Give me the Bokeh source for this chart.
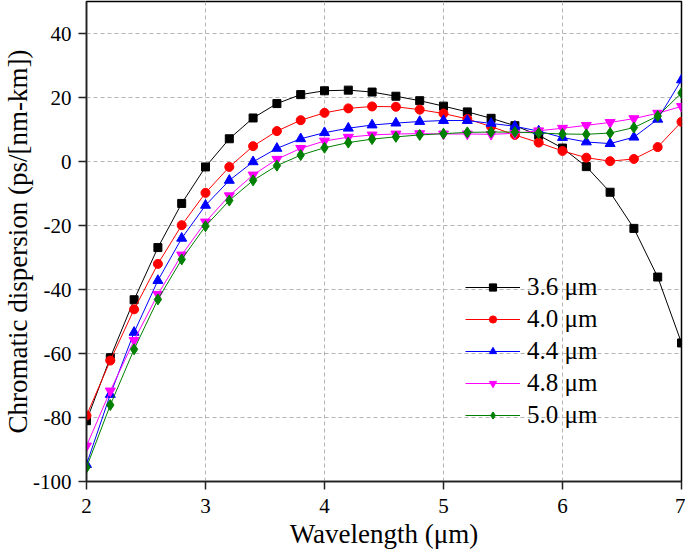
from bokeh.plotting import figure
from bokeh.models import Range1d, FixedTicker, Legend, LegendItem
from bokeh.embed import file_html
from bokeh.resources import INLINE

wavelength = [2.0, 2.2, 2.4, 2.6, 2.8, 3.0, 3.2, 3.4, 3.6, 3.8, 4.0, 4.2, 4.4,
              4.6, 4.8, 5.0, 5.2, 5.4, 5.6, 5.8, 6.0, 6.2, 6.4, 6.6, 6.8, 7.0]
d_36 = [-81.0, -61.3, -43.2, -26.9, -13.1, -1.7, 7.1, 13.6, 18.1, 20.9, 22.1, 22.3, 21.7,
        20.4, 19.0, 17.3, 15.5, 13.5, 11.2, 8.2, 4.2, -1.6, -9.6, -20.9, -36.1, -56.7]
d_40 = [-79.4, -62.2, -46.2, -32.0, -19.9, -9.8, -1.7, 4.8, 9.5, 12.9, 15.2, 16.6, 17.2,
        17.1, 16.2, 15.0, 13.3, 10.9, 8.3, 5.9, 3.3, 1.2, 0.1, 0.8, 4.5, 12.4]
d_44 = [-94.7, -72.8, -53.4, -37.2, -24.0, -13.7, -5.9, -0.1, 4.1, 7.1, 9.0, 10.4, 11.4,
        12.0, 12.5, 12.8, 12.8, 11.9, 11.0, 9.5, 7.5, 6.1, 5.6, 7.6, 13.2, 25.5]
d_48 = [-88.9, -71.7, -55.9, -41.5, -29.2, -18.9, -10.7, -4.2, 0.7, 4.1, 6.4, 7.6, 8.3,
        8.6, 8.7, 8.6, 8.6, 8.5, 8.8, 9.6, 10.4, 11.3, 12.2, 13.4, 15.1, 17.2]
d_50 = [-95.6, -76.1, -58.7, -43.1, -30.6, -20.2, -12.2, -5.9, -1.3, 2.0, 4.3, 5.9, 7.0,
        7.7, 8.3, 8.7, 9.1, 9.2, 9.2, 8.9, 8.6, 8.5, 8.9, 10.6, 14.2, 21.4]

series_labels = ["3.6 \u03bcm", "4.0 \u03bcm", "4.4 \u03bcm", "4.8 \u03bcm", "5.0 \u03bcm"]
series_values = [d_36, d_40, d_44, d_48, d_50]
colors = ["#000000", "#ff0000", "#0000ff", "#ff00ff", "#008000"]
markers = ["square", "circle", "triangle", "inverted_triangle", "diamond"]
msizes = [8, 9, 10, 10, 11]

x_ticks = [2, 3, 4, 5, 6, 7]
x_tick_labels = ["2", "3", "4", "5", "6", "7"]
y_ticks = [-100, -80, -60, -40, -20, 0, 20, 40]
y_tick_labels = ["-100", "-80", "-60", "-40", "-20", "0", "20", "40"]
x_title = "Wavelength (\u03bcm)"
y_title = "Chromatic dispersion (ps/[nm-km])"

FONT = "Liberation Serif"

p = figure(width=685, height=555, output_backend="svg", toolbar_location=None,
           x_range=Range1d(2, 7), y_range=Range1d(-100, 50),
           min_border_left=86, min_border_right=4, min_border_top=1,
           min_border_bottom=74)
p.background_fill_color = "white"
p.border_fill_color = "white"
p.outline_line_color = "black"
p.outline_line_width = 1.5

items = []
for lab, vals, col, mk, ms in zip(series_labels, series_values, colors, markers, msizes):
    r1 = p.line(wavelength, vals, line_color=col, line_width=1)
    r2 = p.scatter(wavelength, vals, marker=mk, size=ms, fill_color=col, line_color=col)
    items.append(LegendItem(label=lab, renderers=[r1, r2]))

for ax, ticks, tlabels in ((p.xaxis[0], x_ticks, x_tick_labels),
                           (p.yaxis[0], y_ticks, y_tick_labels)):
    ax.ticker = FixedTicker(ticks=ticks)
    ax.major_label_overrides = {t: s for t, s in zip(ticks, tlabels)}
    ax.major_label_text_font = FONT
    ax.major_label_text_font_size = "21px"
    ax.major_label_text_color = "black"
    ax.axis_label_text_font = FONT
    ax.axis_label_text_font_size = "27px"
    ax.axis_label_text_font_style = "normal"
    ax.axis_label_text_color = "black"
    ax.axis_line_width = 1.5
    ax.axis_line_color = "#222222"
    ax.major_tick_line_width = 1.5
    ax.major_tick_line_color = "#222222"
    ax.major_tick_out = 8
    ax.major_tick_in = 0
    ax.minor_tick_line_color = None

p.xaxis[0].axis_label = x_title
p.xaxis[0].major_label_standoff = 9
p.xaxis[0].axis_label_standoff = 3
p.yaxis[0].axis_label = y_title
p.yaxis[0].major_label_standoff = 7
p.yaxis[0].axis_label_standoff = -3

for g in (p.xgrid[0], p.ygrid[0]):
    g.grid_line_color = "#b4b4b4"
    g.grid_line_dash = "4 3"
    g.grid_line_width = 1
p.xgrid[0].ticker = FixedTicker(ticks=x_ticks)
p.ygrid[0].ticker = FixedTicker(ticks=y_ticks)

legend = Legend(items=items, location=(379, 50))
legend.background_fill_alpha = 0
legend.border_line_color = None
legend.padding = 0
legend.margin = 0
legend.spacing = 0
legend.glyph_width = 55
legend.glyph_height = 18
legend.label_height = 32
legend.label_standoff = 7
legend.label_text_font = FONT
legend.label_text_font_size = "25px"
legend.label_text_color = "black"
legend.label_text_baseline = "middle"
p.add_layout(legend)

open("out.html", "w").write(file_html(p, INLINE))
